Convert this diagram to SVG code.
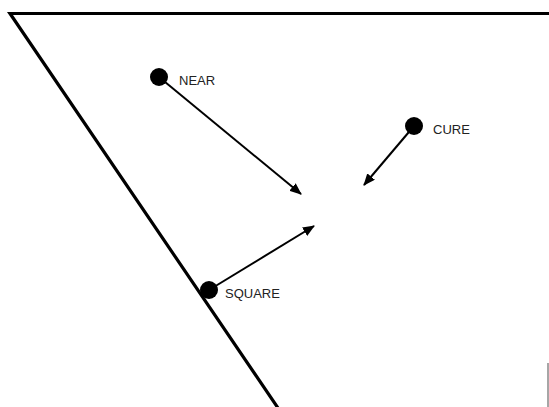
<svg xmlns="http://www.w3.org/2000/svg" width="549" height="407" viewBox="0 0 549 407">
<style>
.frame{fill:none;stroke:#000;stroke-width:3.2}
.dot{fill:#000}
.lbl{font-family:"Liberation Sans",Arial,sans-serif;font-size:13px;fill:#222}
.conn{stroke:#000;stroke-width:2;fill:none;marker-end:url(#ah)}
</style>
<defs>
<marker id="ah" viewBox="0 0 12 10" refX="11" refY="5" markerWidth="12" markerHeight="10" markerUnits="userSpaceOnUse" orient="auto">
<path d="M0,0 L12,5 L0,10 Z" fill="#000"/>
</marker>
</defs>
<rect width="549" height="407" fill="#fff"/>
<g id="frame">
<polyline class="frame" points="549,13.5 10,13.5 278,408"/>
<line x1="548" y1="363" x2="548" y2="407" stroke="#888" stroke-width="1.5"/>
</g>
<g id="connectors">
<line class="conn" x1="159" y1="77" x2="301" y2="194"/>
<line class="conn" x1="414" y1="126" x2="364" y2="185"/>
<line class="conn" x1="209" y1="290" x2="314" y2="226"/>
</g>
<g id="near">
<circle class="dot" cx="159" cy="77" r="9"/>
<text class="lbl" x="179" y="85">NEAR</text>
</g>
<g id="cure">
<circle class="dot" cx="414" cy="126" r="9"/>
<text class="lbl" x="433" y="134">CURE</text>
</g>
<g id="square">
<circle class="dot" cx="209" cy="290" r="9"/>
<text class="lbl" x="225" y="298">SQUARE</text>
</g>
</svg>
